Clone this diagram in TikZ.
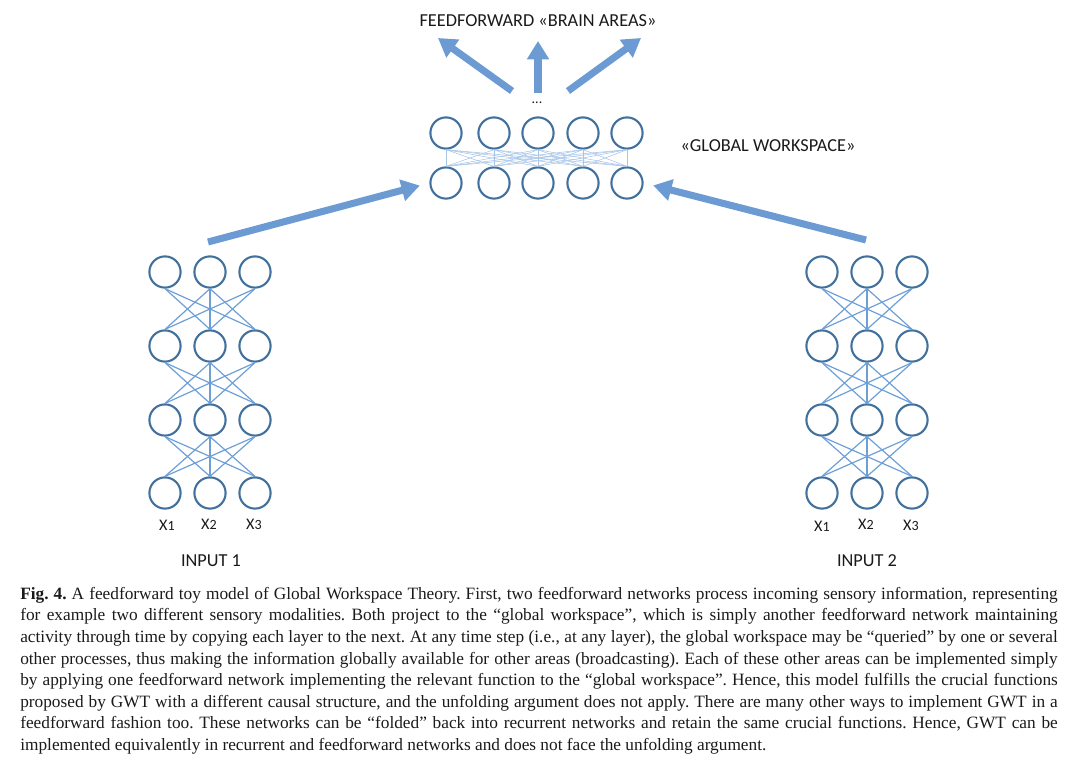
\documentclass[tikz,border=0pt]{standalone}
\usepackage{fontspec}
\setmainfont{Liberation Serif}
\newfontfamily\labelfont{Carlito}
\usepackage{xcolor}
\usepackage{tikz}
\usetikzlibrary{arrows.meta}
\definecolor{rim}{HTML}{41709C}
\definecolor{wire}{HTML}{6C9FD8}
\definecolor{flow}{HTML}{6B9BD2}
\definecolor{ink}{HTML}{1A1A1A}
\tikzset{
  neuron/.style={circle,draw=rim,line width=1.5pt,minimum size=0.78cm,inner sep=0pt},
  link/.style={draw=wire,line width=0.85pt},
  gwlink/.style={draw=wire!60,line width=0.4pt},
  bigarrow/.style={-{Triangle[length=13pt,width=15pt]},line width=5pt,draw=flow},
  tag/.style={font=\labelfont\fontsize{13}{15}\selectfont,text=ink,inner sep=0pt},
  xtag/.style={tag,font=\labelfont\fontsize{11.5}{13}\selectfont}
}
\newcommand{\xlab}[1]{X{\fontsize{10}{12}\selectfont #1}}

\begin{document}
\frenchspacing
\begin{tikzpicture}[x=0.025cm,y=-0.025cm]
\useasboundingbox (0,0) rectangle (1080,772);
% the two input networks
\foreach \side/\xa in {left/165,right/822} {
  \foreach \r/\y in {1/272,2/346,3/420,4/493} {
    \foreach \c in {1,2,3}
      \node[neuron] (\side-\r-\c) at (\xa+45*\c-45,\y) {};
  }
  % outer columns have no straight link down
  \foreach \r/\n in {1/2,2/3,3/4}
    \foreach \a in {1,2,3}
      \foreach \b in {1,2,3} {
        \ifnum\a=\b \ifnum\a=2 \draw[link] (\side-\r-\a.south) -- (\side-\n-\b.north);\fi
        \else \draw[link] (\side-\r-\a.south) -- (\side-\n-\b.north);\fi
      }
}
\node[xtag] (left-x1) at (167,525) {\xlab{1}};
\node[xtag] (left-x2) at (209,524) {\xlab{2}};
\node[xtag] (left-x3) at (254,524) {\xlab{3}};
\node[xtag] (right-x1) at (822,526) {\xlab{1}};
\node[xtag] (right-x2) at (866,524) {\xlab{2}};
\node[xtag] (right-x3) at (911,525) {\xlab{3}};
\node[tag] (input1) at (211,561) {INPUT 1};
\node[tag] (input2) at (867,561) {INPUT 2};

% global workspace
\foreach \c/\x in {1/446,2/494,3/538,4/583,5/627} {
  \node[neuron] (gw-top-\c) at (\x,133) {};
  \node[neuron] (gw-bot-\c) at (\x,183) {};
}
\foreach \a in {1,...,5}
  \foreach \b in {1,...,5}
    \draw[gwlink] (gw-top-\a.south) -- (gw-bot-\b.north);
\node[tag] (gwname) at (768,146) {«GLOBAL WORKSPACE»};
\node[tag,font=\labelfont\fontsize{10}{12}\selectfont] (dots) at (537,103) {...};
\node[tag] (areas) at (538,21) {FEEDFORWARD «BRAIN AREAS»};

% projections
\coordinate (feed-left) at (208,242);
\coordinate (feed-right) at (866,240);
\draw[bigarrow,shorten >=7pt] (feed-left) -- (gw-bot-1.west);
\draw[bigarrow,shorten >=7pt] (feed-right) -- (gw-bot-5.east);
\coordinate (out-left-a) at (512,91);
\coordinate (out-left-b) at (438,38);
\coordinate (out-mid-a) at (538,93);
\coordinate (out-mid-b) at (538,41);
\coordinate (out-right-a) at (568,91);
\coordinate (out-right-b) at (641,38);
\draw[bigarrow] (out-left-a) -- (out-left-b);
\draw[bigarrow] (out-mid-a) -- (out-mid-b);
\draw[bigarrow] (out-right-a) -- (out-right-b);

% caption
\node[anchor=north west,inner sep=0pt,text width=25.93cm,align=justify,
  font=\fontsize{12.3}{15.3}\selectfont,text=ink] (caption) at (20,587)
{\textbf{Fig. 4.} A feedforward toy model of Global Workspace Theory. First, two feedforward networks process incoming sensory information, representing\linebreak
for example two different sensory modalities. Both project to the “global workspace”, which is simply another feedforward network maintaining\linebreak
activity through time by copying each layer to the next. At any time step (i.e., at any layer), the global workspace may be “queried” by one or several\linebreak
other processes, thus making the information globally available for other areas (broadcasting). Each of these other areas can be implemented simply\linebreak
by applying one feedforward network implementing the relevant function to the “global workspace”. Hence, this model fulfills the crucial functions\linebreak
proposed by GWT with a different causal structure, and the unfolding argument does not apply. There are many other ways to implement GWT in a\linebreak
feedforward fashion too. These networks can be “folded” back into recurrent networks and retain the same crucial functions. Hence, GWT can be\linebreak
implemented equivalently in recurrent and feedforward networks and does not face the unfolding argument.};
\end{tikzpicture}
\end{document}
